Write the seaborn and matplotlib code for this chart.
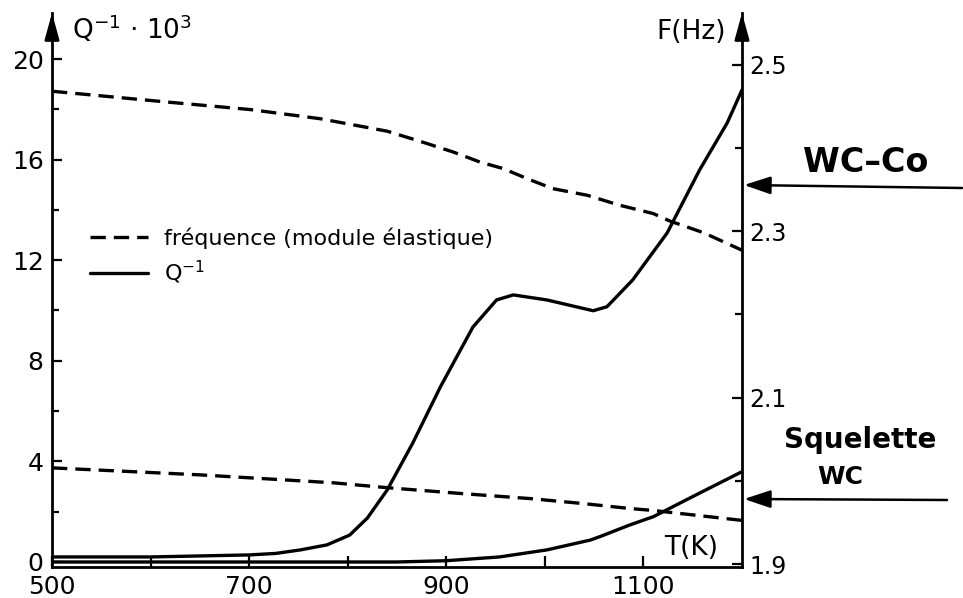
import matplotlib
matplotlib.use("Agg")
import matplotlib.pyplot as plt
import seaborn as sns
from matplotlib.lines import Line2D
from matplotlib.ticker import FixedLocator

# ---------------- data ----------------
# WC-Co : internal friction Q^-1 * 10^3 (left axis)
T_q_wcco = [500, 600, 700, 727, 752, 779, 802, 820, 840, 866, 894, 927, 951, 968,
            1002, 1049, 1063, 1089, 1124, 1157, 1185, 1200]
Q_wcco = [0.20, 0.20, 0.28, 0.34, 0.48, 0.68, 1.07, 1.75, 2.86, 4.73, 6.96, 9.34,
          10.42, 10.62, 10.42, 9.99, 10.15, 11.21, 13.08, 15.59, 17.46, 18.77]

# WC-Co : frequency F (Hz) (right axis)
T_f_wcco = [500, 617, 701, 772, 840, 873, 907, 934, 958, 982, 1008, 1043, 1076,
            1110, 1127, 1161, 1200]
F_wcco = [2.468, 2.455, 2.446, 2.435, 2.420, 2.408, 2.395, 2.383, 2.375, 2.363,
          2.351, 2.343, 2.331, 2.321, 2.312, 2.298, 2.277]

# Squelette WC : frequency F (Hz) (right axis)
T_f_wc = [500, 650, 785, 840, 917, 985, 1039, 1086, 1110, 1200]
F_wc = [2.0155, 2.0071, 1.9976, 1.9917, 1.9845, 1.9786, 1.9726, 1.9667, 1.9643, 1.9524]

# Squelette WC : internal friction Q^-1 * 10^3 (left axis)
T_q_wc = [500, 700, 850, 900, 954, 1002, 1046, 1056, 1086, 1110, 1157, 1200]
Q_wc = [0.0, 0.0, 0.0, 0.05, 0.20, 0.48, 0.87, 1.01, 1.47, 1.80, 2.74, 3.59]

x_major = [500, 700, 900, 1100]
x_minor = [600, 800, 1000]
q_ticks = [0, 4, 8, 12, 16, 20]
q_minor = [2, 6, 10, 14, 18]
f_ticks = [1.9, 2.1, 2.3, 2.5]
f_minor = [2.0, 2.2, 2.4]

# ---------------- styling ----------------
sns.set_theme(style="white")
plt.rcParams["font.family"] = ["DejaVu Sans"]
plt.rcParams["mathtext.fontset"] = "dejavusans"
for k in ("text.color", "axes.labelcolor", "xtick.color", "ytick.color", "axes.edgecolor"):
    plt.rcParams[k] = "black"

W, H = 963, 598
fig = plt.figure(figsize=(W / 100, H / 100), dpi=100)
fig.patch.set_facecolor("white")

ax = fig.add_axes([52 / W, (H - 566.5) / H, 690 / W, 553.5 / H])
ax.set_facecolor("none")
ax2 = ax.twinx()

LW = 2.4
DASH = (0, (4.6, 2.4))

sns.lineplot(x=T_q_wcco, y=Q_wcco, ax=ax, color="black", lw=LW, legend=False)
sns.lineplot(x=T_q_wc, y=Q_wc, ax=ax, color="black", lw=LW, legend=False)
sns.lineplot(x=T_f_wcco, y=F_wcco, ax=ax2, color="black", lw=LW, linestyle=DASH, legend=False)
sns.lineplot(x=T_f_wc, y=F_wc, ax=ax2, color="black", lw=LW, linestyle=DASH, legend=False)

ax.set_xlim(500, 1200)
ax.set_ylim(-0.18, 21.83)
ax2.set_ylim(1.897, 2.562)

for a in (ax, ax2):
    for s in a.spines.values():
        s.set_linewidth(2.0)
        s.set_color("black")
ax.spines["top"].set_visible(False)
ax.spines["right"].set_visible(False)
ax2.spines["top"].set_visible(False)
ax2.spines["left"].set_visible(False)
ax2.spines["bottom"].set_visible(False)

# x ticks
ax.xaxis.set_major_locator(FixedLocator(x_major))
ax.xaxis.set_minor_locator(FixedLocator(x_minor))
ax.set_xticklabels([str(v) for v in x_major])
ax.tick_params(axis="x", which="both", direction="in", length=8, width=1.6,
               pad=6, labelsize=18, bottom=True)

# left y ticks
ax.yaxis.set_major_locator(FixedLocator(q_ticks))
ax.yaxis.set_minor_locator(FixedLocator(q_minor))
ax.set_yticklabels([str(v) for v in q_ticks])
ax.tick_params(axis="y", which="major", direction="in", length=7, width=1.6,
               pad=6, labelsize=18, left=True)
ax.tick_params(axis="y", which="minor", direction="in", length=5, width=1.6, left=True)

# right y ticks
ax2.yaxis.set_major_locator(FixedLocator(f_ticks))
ax2.yaxis.set_minor_locator(FixedLocator(f_minor))
ax2.set_yticklabels([f"{v:.1f}" for v in f_ticks])
ax2.tick_params(axis="y", which="major", direction="in", length=7, width=1.6,
                pad=5, labelsize=17, right=True)
ax2.tick_params(axis="y", which="minor", direction="in", length=5, width=1.6, right=True)
ax.set_xlabel("")
ax.set_ylabel("")
ax2.set_ylabel("")

# arrowheads at top of the vertical axes
for xf in (0, 1):
    ax.annotate("", xy=(xf, 1.0), xytext=(xf, 0.955), xycoords="axes fraction",
                arrowprops=dict(arrowstyle="-|>,head_length=0.8,head_width=0.22",
                                color="black", lw=2.0, mutation_scale=20,
                                shrinkA=0, shrinkB=0))

# axis titles
fig.text(72 / W, 1 - 29 / H, r"Q$^{-1}$ · 10$^{3}$", fontsize=19, ha="left", va="center")
fig.text(726 / W, 1 - 32 / H, "F(Hz)", fontsize=19, ha="right", va="center")
fig.text(691 / W, 1 - 548 / H, "T(K)", fontsize=19, ha="center", va="center")

# legend
handles = [Line2D([], [], color="black", lw=LW, linestyle=DASH),
           Line2D([], [], color="black", lw=LW)]
labels = ["fréquence (module élastique)", r"Q$^{-1}$"]
ax2.legend(handles, labels, loc="upper left", bbox_to_anchor=(90 / W, 1 - 227 / H),
           bbox_transform=fig.transFigure, frameon=False, fontsize=16,
           handlelength=2.6, handletextpad=0.75, labelspacing=0.45,
           borderpad=0, borderaxespad=0)

# sample labels with arrows
fig.text(866 / W, 1 - 162 / H, "WC–Co", fontsize=24, fontweight="bold", ha="center", va="center")
fig.text(860 / W, 1 - 440 / H, "Squelette", fontsize=20, fontweight="bold", ha="center", va="center")
fig.text(840 / W, 1 - 477 / H, "WC", fontsize=18, fontweight="bold", ha="center", va="center")

arrow_kw = dict(arrowstyle="-|>,head_length=0.9,head_width=0.3", color="black",
                lw=1.8, mutation_scale=18, shrinkA=0, shrinkB=0)
ax.annotate("", xy=(744, H - 185), xytext=(962, H - 188), xycoords="figure pixels",
            textcoords="figure pixels", arrowprops=arrow_kw, annotation_clip=False)
ax.annotate("", xy=(744, H - 499), xytext=(947, H - 500), xycoords="figure pixels",
            textcoords="figure pixels", arrowprops=arrow_kw, annotation_clip=False)

fig.savefig("out.png", dpi=100, facecolor="white")
